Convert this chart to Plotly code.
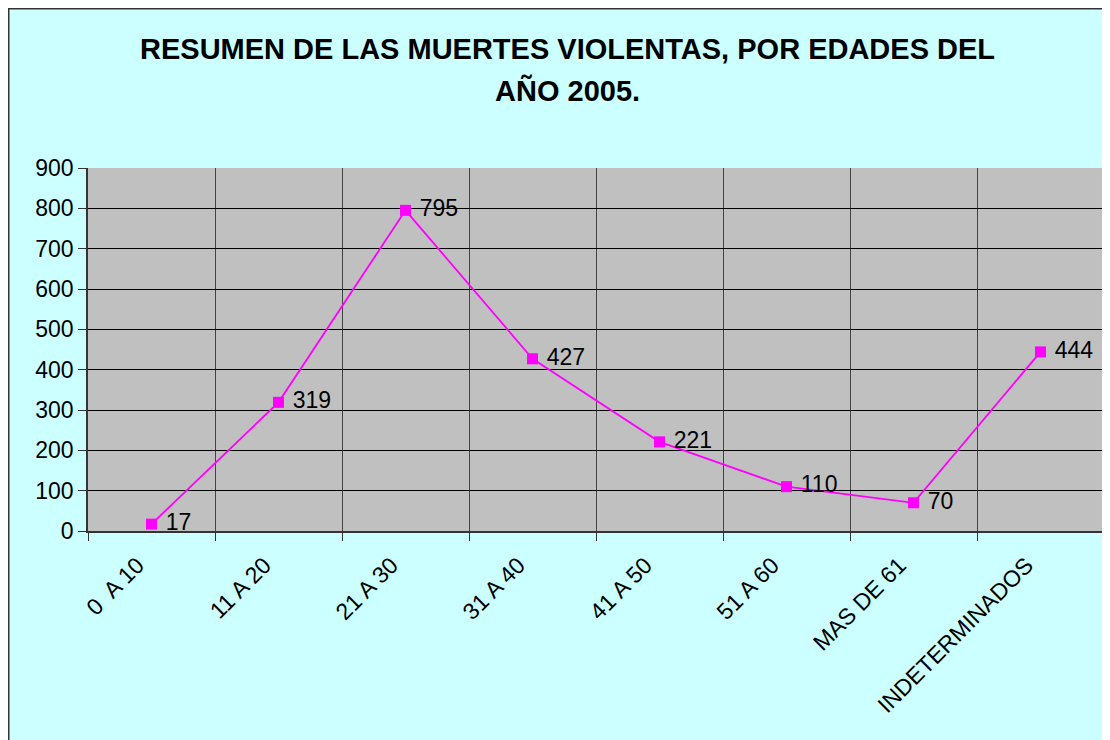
import plotly.graph_objects as go

categorias = ["0\u00a0 A 10", "11 A 20", "21 A 30", "31 A 40", "41 A 50",
              "51 A 60", "MAS DE 61", "INDETERMINADOS"]
muertes = [17, 319, 795, 427, 221, 110, 70, 444]
titulo1 = "RESUMEN DE LAS MUERTES VIOLENTAS, POR EDADES DEL"
titulo2 = "AÑO 2005."

fuente = "Liberation Sans, Arial, sans-serif"

trace = go.Scatter(
    x=categorias,
    y=muertes,
    mode="lines+markers+text",
    text=[" " + str(v) for v in muertes],
    textposition="middle right",
    textfont=dict(family=fuente, size=23, color="black"),
    line=dict(color="#FF00FF", width=1.8),
    marker=dict(symbol="square", size=11, color="#FF00FF"),
    cliponaxis=False,
    showlegend=False,
)

fig = go.Figure(trace)

# plot area spans x 80..1096, y 160..523 px (figure coords)
W, H = 1016, 363
def px_x(p):
    return (p - 80) / W
def px_y(p):
    return (523 - p) / H

fig.update_layout(
    width=1110, height=740,
    margin=dict(l=80, r=14, t=160, b=217),
    paper_bgcolor="#CCFFFF",
    plot_bgcolor="#C0C0C0",
    font=dict(family=fuente, size=23, color="black"),
    shapes=[dict(type="rect", xref="paper", yref="paper",
                 x0=px_x(0.75), x1=px_x(1130), y0=px_y(760), y1=px_y(0.75),
                 fillcolor="rgba(0,0,0,0)", line=dict(color="#333333", width=1.5),
                 layer="below")],
    annotations=[
        dict(text="<b>%s</b>" % titulo1, xref="paper", yref="paper",
             x=px_x(559), y=px_y(23), showarrow=False,
             font=dict(size=29, family=fuente)),
        dict(text="<b>%s</b>" % titulo2, xref="paper", yref="paper",
             x=px_x(559), y=px_y(64), showarrow=False,
             font=dict(size=29, family=fuente)),
    ],
)

fig.update_xaxes(
    type="category",
    range=[-0.5, 7.5],
    tickson="boundaries",
    showgrid=True, gridcolor="#444444", gridwidth=1,
    ticks="outside", ticklen=8, tickcolor="#333333",
    showline=True, linecolor="#333333", linewidth=1.5,
    tickangle=-45,
    ticklabelstandoff=10,
    ticklabelshift=-14,
    tickfont=dict(size=23),
)
fig.update_yaxes(
    range=[0, 900], dtick=100,
    showgrid=True, gridcolor="black", gridwidth=1,
    ticks="outside", ticklen=8, tickcolor="#333333",
    showline=True, linecolor="#333333", linewidth=1.5,
    tickfont=dict(size=23),
    zeroline=False,
)

fig.write_html("out.html")
